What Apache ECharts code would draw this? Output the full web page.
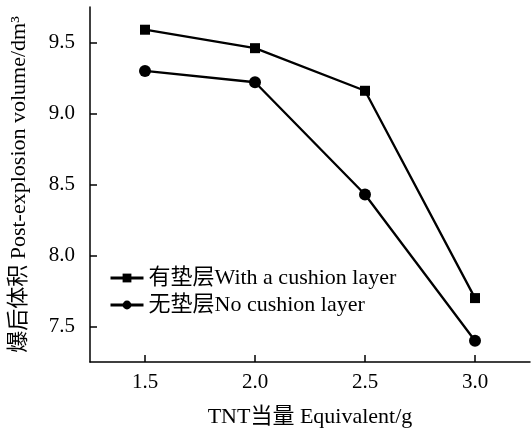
<!DOCTYPE html>
<html>
<head>
<meta charset="utf-8">
<script src="https://cdn.jsdelivr.net/npm/echarts@6/dist/echarts.min.js"></script>
<style>
  html, body { margin: 0; padding: 0; background: #fff; }
  #chart { width: 531px; height: 428px; }
</style>
</head>
<body>
<div id="chart"></div>
<script>
// TNT equivalent (g)
const tntEquivalent = [1.5, 2.0, 2.5, 3.0];
// Post-explosion volume (dm³)
const withCushion = [9.59, 9.46, 9.16, 7.70];
const noCushion = [9.30, 9.22, 8.43, 7.40];
const volumeTicks = [7.5, 8.0, 8.5, 9.0, 9.5];
const seriesNames = ['有垫层With a cushion layer', '无垫层No cushion layer'];

const FONT = '"Liberation Serif", "Times New Roman", "Noto Sans CJK SC", serif';

function pairs(xs, ys) {
  return xs.map((x, i) => [x, ys[i]]);
}

const chart = echarts.init(document.getElementById('chart'), null, { renderer: 'canvas' });

chart.setOption({
  backgroundColor: '#fff',
  animation: false,
  grid: { left: 90, right: 1, top: 7, bottom: 66, outerBoundsMode: 'none', containLabel: false },
  legend: {
    left: 104,
    top: 262,
    orient: 'vertical',
    itemWidth: 33,
    itemHeight: 11,
    itemGap: 5,
    lineStyle: { width: 3 },
    textStyle: { fontFamily: FONT, fontSize: 22, color: '#000' },
    data: seriesNames
  },
  xAxis: {
    type: 'value',
    min: 1.25,
    max: 3.25,
    interval: 0.5,
    name: 'TNT当量 Equivalent/g',
    nameLocation: 'middle',
    nameGap: 44,
    nameTextStyle: { fontFamily: FONT, fontSize: 22, color: '#000' },
    axisLine: { show: true, lineStyle: { color: '#000', width: 1.5 } },
    axisTick: { show: true, inside: true, length: 7, lineStyle: { color: '#000', width: 1.5 },
      customValues: tntEquivalent },
    axisLabel: { fontFamily: FONT, fontSize: 21, color: '#000', margin: 10,
      customValues: tntEquivalent,
      formatter: v => v.toFixed(1) },
    splitLine: { show: false }
  },
  yAxis: {
    type: 'value',
    min: 7.25,
    max: 9.75,
    interval: 0.5,
    name: '爆后体积 Post-explosion volume/dm³',
    nameLocation: 'middle',
    nameGap: 60,
    nameTextStyle: { fontFamily: FONT, fontSize: 22, color: '#000' },
    axisLine: { show: true, lineStyle: { color: '#000', width: 1.5 } },
    axisTick: { show: true, inside: true, length: 7, lineStyle: { color: '#000', width: 1.5 },
      customValues: volumeTicks },
    axisLabel: { fontFamily: FONT, fontSize: 21, color: '#000', margin: 15,
      customValues: volumeTicks,
      formatter: v => v.toFixed(1) },
    splitLine: { show: false }
  },
  series: [
    {
      name: seriesNames[0],
      type: 'line',
      data: pairs(tntEquivalent, withCushion),
      symbol: 'rect',
      symbolSize: 10,
      itemStyle: { color: '#000' },
      lineStyle: { color: '#000', width: 2.3 }
    },
    {
      name: seriesNames[1],
      type: 'line',
      data: pairs(tntEquivalent, noCushion),
      symbol: 'circle',
      symbolSize: 12,
      itemStyle: { color: '#000' },
      lineStyle: { color: '#000', width: 2.3 }
    }
  ]
});
</script>
</body>
</html>
